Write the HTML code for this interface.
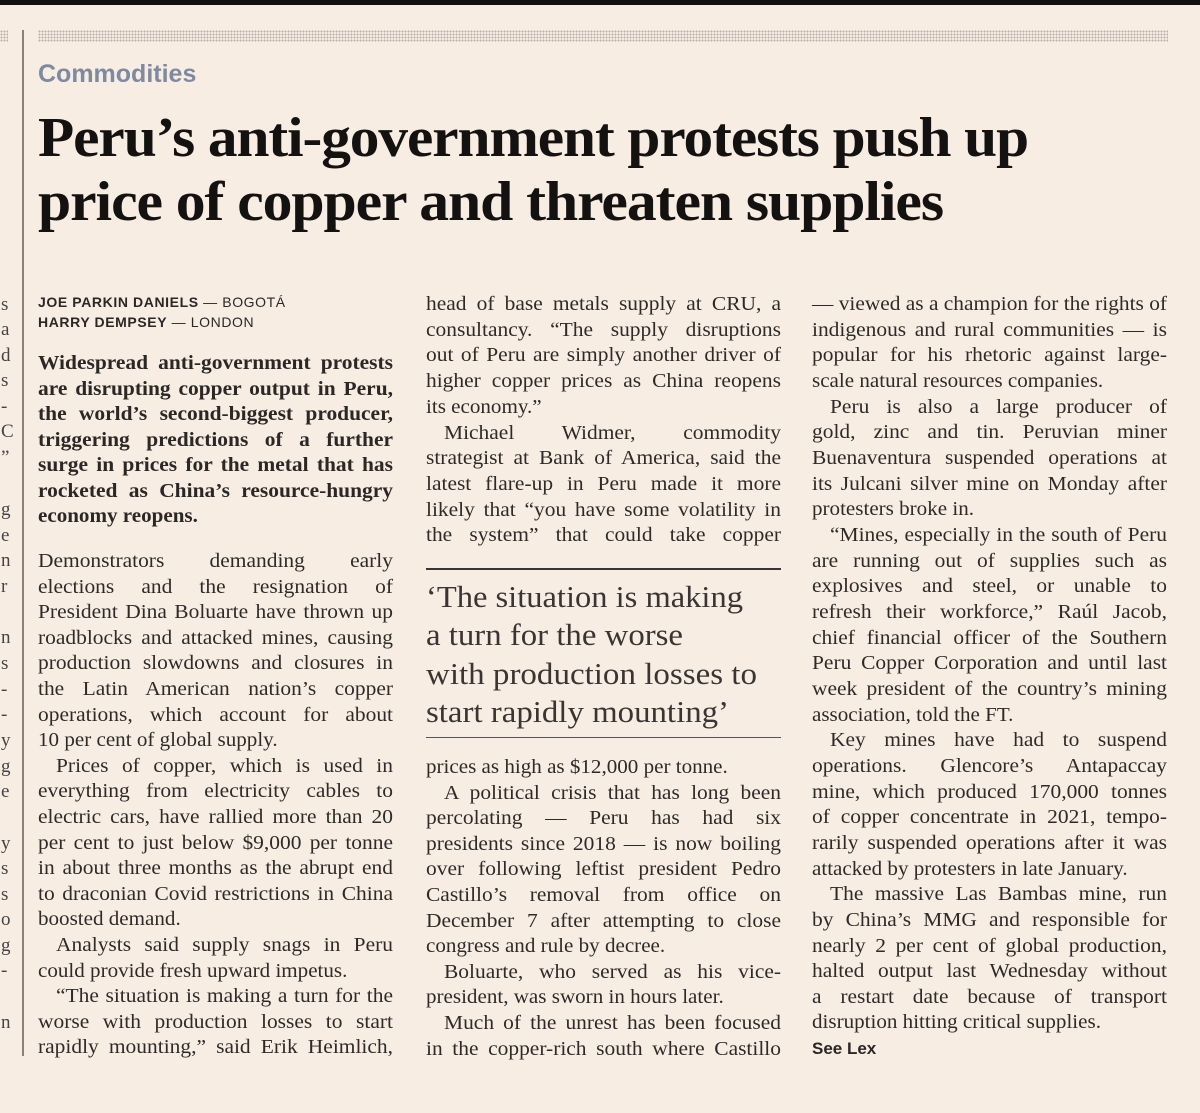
<!DOCTYPE html>
<html><head><meta charset="utf-8">
<style>
html,body{margin:0;padding:0}
body{width:1200px;height:1113px;background:#f8ede3;position:relative;overflow:hidden;font-family:"Liberation Serif",serif;color:#2e2a27}
.abs{position:absolute}
.ln{position:absolute;height:26px;line-height:26px;font-size:19.5px;white-space:nowrap}
.ln span{display:inline-block;transform-origin:0 50%;white-space:nowrap}
.lead{color:#2a2725;font-weight:bold;font-size:19.5px}
.q{position:absolute;font-size:31px;line-height:38px;white-space:nowrap;color:#3a3532}
.q span{display:inline-block;transform-origin:0 50%}
.hd{position:absolute;font-weight:bold;font-size:56px;line-height:64px;color:#141210;white-space:nowrap;letter-spacing:-1px}
.hd span{display:inline-block;transform-origin:0 50%}
.by{position:absolute;font-family:"Liberation Sans",sans-serif;font-size:14px;letter-spacing:0.6px;color:#2a2725;white-space:nowrap}
.mg{position:absolute;left:1px;font-size:19px;line-height:26px;color:#444}
</style></head>
<body>
<div class="abs" style="left:0;top:0;width:1200px;height:5px;background:#111"></div>
<div class="abs" style="left:38px;top:30px;width:1130px;height:12px;background-image:radial-gradient(circle,#b9b0a8 0.9px,transparent 1.1px);background-size:3px 3px"></div>
<div class="abs" style="left:0;top:30px;width:8px;height:12px;background-image:radial-gradient(circle,#b9b0a8 0.9px,transparent 1.1px);background-size:3px 3px"></div>
<div class="abs" style="left:22px;top:30px;width:2px;height:1026px;background:#8a827c"></div>
<div class="abs" style="left:38px;top:60px;font-family:'Liberation Sans',sans-serif;font-weight:bold;font-size:25px;color:#7d8aa0">Commodities</div>
<div class="hd" data-w="990" style="left:38px;top:106px"><span>Peru’s anti-government protests push up</span></div>
<div class="hd" data-w="905" style="left:38px;top:170px"><span>price of copper and threaten supplies</span></div>
<div class="by" style="left:38px;top:294px"><b>JOE PARKIN DANIELS</b> — BOGOTÁ</div>
<div class="by" style="left:38px;top:314px"><b>HARRY DEMPSEY</b> — LONDON</div>
<div class="abs" style="left:426px;top:568px;width:355px;height:2px;background:#3a3532"></div>
<div class="abs" style="left:426px;top:737px;width:355px;height:1px;background:#555"></div>
<div id="root"></div>
<script>
const W=355;
const lead=["Widespread anti-government protests","are disrupting copper output in Peru,","the world’s second-biggest producer,","triggering predictions of a further","surge in prices for the metal that has","rocketed as China’s resource-hungry","|economy reopens."];
const c1=["Demonstrators demanding early","elections and the resignation of","President Dina Boluarte have thrown up","roadblocks and attacked mines, causing","production slowdowns and closures in","the Latin American nation’s copper","operations, which account for about","|10 per cent of global supply.","   Prices of copper, which is used in","everything from electricity cables to","electric cars, have rallied more than 20","per cent to just below $9,000 per tonne","in about three months as the abrupt end","to draconian Covid restrictions in China","|boosted demand.","   Analysts said supply snags in Peru","|could provide fresh upward impetus.","   “The situation is making a turn for the","worse with production losses to start","rapidly mounting,” said Erik Heimlich,"];
const c2a=["head of base metals supply at CRU, a","consultancy. “The supply disruptions","out of Peru are simply another driver of","higher copper prices as China reopens","|its economy.”","   Michael Widmer, commodity","strategist at Bank of America, said the","latest flare-up in Peru made it more","likely that “you have some volatility in","the system” that could take copper"];
const c2b=["|prices as high as $12,000 per tonne.","   A political crisis that has long been","percolating — Peru has had six","presidents since 2018 — is now boiling","over following leftist president Pedro","Castillo’s removal from office on","December 7 after attempting to close","|congress and rule by decree.","   Boluarte, who served as his vice-","|president, was sworn in hours later.","   Much of the unrest has been focused","in the copper-rich south where Castillo"];
const c3=["— viewed as a champion for the rights of","indigenous and rural communities — is","popular for his rhetoric against large-","|scale natural resources companies.","   Peru is also a large producer of","gold, zinc and tin. Peruvian miner","Buenaventura suspended operations at","its Julcani silver mine on Monday after","|protesters broke in.","   “Mines, especially in the south of Peru","are running out of supplies such as","explosives and steel, or unable to","refresh their workforce,” Raúl Jacob,","chief financial officer of the Southern","Peru Copper Corporation and until last","week president of the country’s mining","|association, told the FT.","   Key mines have had to suspend","operations. Glencore’s Antapaccay","mine, which produced 170,000 tonnes","of copper concentrate in 2021, tempo-","rarily suspended operations after it was","|attacked by protesters in late January.","   The massive Las Bambas mine, run","by China’s MMG and responsible for","nearly 2 per cent of global production,","halted output last Wednesday without","a restart date because of transport","|disruption hitting critical supplies."];
const quote=["‘The situation is making","a turn for the worse","with production losses to","start rapidly mounting’"];
const margin=[["s",305],["a",330],["d",356],["s",381],["-",407],["C",432],["”",458],["g",510],["e",536],["n",561],["r",587],["n",638],["s",664],["-",690],["-",715],["y",741],["g",767],["e",792],["y",844],["s",869],["s",895],["o",920],["g",946],["-",971],["n",1023]];
const root=document.getElementById('root');
function addLines(arr,x,y0,step,cls,name){
  arr.forEach((t,i)=>{
    let indent=0,last=false;
    if(t.startsWith("   ")){indent=18;t=t.slice(3);}
    if(t.startsWith("|")){last=true;t=t.slice(1);}
    const d=document.createElement('div');
    
    
    d.className='ln '+cls;
    d.style.left=(x+indent)+'px';d.style.top=(y0+i*step-13)+'px';
    const s=document.createElement('span');s.textContent=t;d.appendChild(s);
    root.appendChild(d);
    const target=W-indent;
    const nat=s.getBoundingClientRect().width;
    let sc;
    if(last){sc=Math.min(1.08,target/nat);}
    else{
      sc=Math.min(1.1,target/nat);
      const rem=target/sc-nat;
      const gaps=t.split(' ').length-1;
      if(rem>0&&gaps>0) s.style.wordSpacing=(rem/gaps)+'px';
    }
    s.style.transform='scaleX('+sc+')';
  });
}
addLines(lead,38,364,25.5,'lead','lead');
addLines(c1,38,562,25.6,'','col1');
addLines(c2a,426,305,25.7,'','col2-top');
addLines(c2b,426,768,25.6,'','col2-bottom');
addLines(c3,812,305,25.66,'','col3');
const sl=document.createElement('div');


sl.className='abs';sl.style.cssText='left:812px;top:1039px;font-family:"Liberation Sans",sans-serif;font-weight:bold;font-size:17px;color:#2a2725';
sl.textContent='See Lex';root.appendChild(sl);
const qw=[317,257,331,303];
quote.forEach((t,i)=>{
  const d=document.createElement('div');
  
  
  d.className='q';d.style.left='426px';d.style.top=(597+i*38.3-19)+'px';
  const s=document.createElement('span');s.textContent=t;d.appendChild(s);root.appendChild(d);
  const nat=s.getBoundingClientRect().width;s.style.transform='scaleX('+(qw[i]/nat)+')';
});
margin.forEach(([c,y],i)=>{
  const d=document.createElement('div');
  
  
  d.className='mg';d.style.top=(y-13)+'px';d.textContent=c;root.appendChild(d);
});
document.querySelectorAll('.hd').forEach(h=>{const s=h.firstChild;const nat=s.getBoundingClientRect().width;s.style.transform='scaleX('+(h.dataset.w/nat)+')';});
</script>
</body></html>
